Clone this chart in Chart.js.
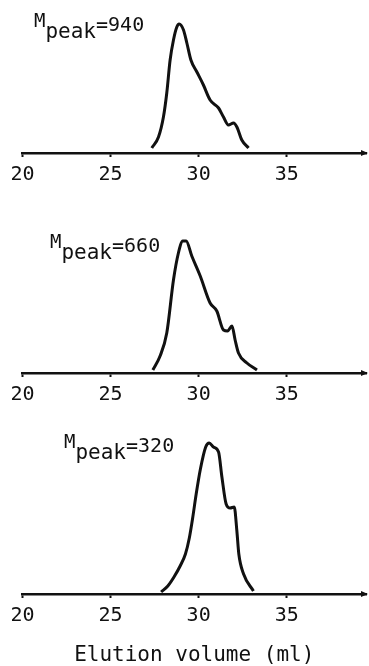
<!DOCTYPE html>
<html>
<head>
<meta charset="utf-8">
<script src="https://cdn.jsdelivr.net/npm/chart.js@4"></script>
<style>
  body { margin: 0; background: #fff; }
  #wrap { position: relative; width: 369px; height: 666px; }
  canvas { position: absolute; left: 0; }
</style>
</head>
<body>
<div id="wrap">
  <canvas id="c1" width="369" height="200" style="top:0px"></canvas>
  <canvas id="c2" width="369" height="220" style="top:200px"></canvas>
  <canvas id="c3" width="369" height="246" style="top:420px"></canvas>
</div>
<script>
// elution volume (ml) / detector signal (arb. units)
const vol940 = [27.34, 27.72, 28.0, 28.19, 28.38, 28.57, 28.76, 28.89, 29.14, 29.33, 29.56, 29.9, 30.27, 30.65, 31.13, 31.41, 31.69, 31.98, 32.17, 32.45, 32.83];
const sig940 = [5, 16, 36, 60, 93, 113, 126, 129, 123, 110, 93, 81, 68, 53, 45, 36, 28, 30, 26, 13, 5];

const vol660 = [27.4, 27.81, 28.19, 28.57, 28.85, 29.1, 29.29, 29.61, 30.09, 30.65, 31.03, 31.41, 31.64, 31.89, 32.07, 32.26, 32.74, 33.31];
const sig660 = [3, 17, 40, 93, 120, 132, 132, 117, 97, 70, 62, 43, 42, 47, 33, 20, 10, 3];

const vol320 = [27.87, 28.25, 28.6, 28.95, 29.25, 29.47, 29.66, 29.86, 30.1, 30.4, 30.6, 30.84, 31.13, 31.32, 31.56, 31.79, 32.02, 32.17, 32.28, 32.55, 33.11];
const sig320 = [2, 8, 17, 28, 40, 56, 76, 100, 125, 147, 151, 147, 142, 117, 90, 86, 87, 63, 40, 20, 3];

const peakLabels = ["940", "660", "320"];
const xTicks = [20, 25, 30, 35];
const xMin = 20;
const xMax = 39.5;
const xTitle = "Elution volume (ml)";

const FONT = "'DejaVu Sans Mono', monospace";
const INK = "#111";

//arrow at the end of the axis + the M_peak label
const extras = {
    id: "extras",
    afterDraw(chart, args, opts) {
        const ctx = chart.ctx;
        const y0 = chart.chartArea.bottom;
        const xe = chart.scales.x.right;
        ctx.save();
        ctx.fillStyle = INK;
        ctx.beginPath();
        ctx.moveTo(xe + 2, y0);
        ctx.lineTo(xe - 5, y0 - 3);
        ctx.lineTo(xe - 5, y0 + 3);
        ctx.closePath();
        ctx.fill();

        let x = opts.x;
        const y = opts.y;
        ctx.textBaseline = "alphabetic";
        ctx.font = "19px " + FONT;
        ctx.fillText("M", x, y);
        x += ctx.measureText("M").width;
        ctx.font = "21px " + FONT;
        ctx.fillText("peak", x, y + 11);
        x += ctx.measureText("peak").width;
        ctx.font = "20px " + FONT;
        ctx.fillText("=" + opts.text, x, y + 4);
        ctx.restore();
    }
};

function veDoThi(id, vol, sig, yMax, padTop, scaleH, label, lx, ly, showTitle) {
    const points = vol.map((v, i) => ({ x: v, y: sig[i] }));
    const ctx = document.getElementById(id).getContext("2d");
    new Chart(ctx, {
        type: "line",
        data: {
            datasets: [{
                data: points,
                borderColor: INK,
                borderWidth: 3,
                pointRadius: 0,
                fill: false,
                cubicInterpolationMode: "monotone"
            }]
        },
        options: {
            responsive: false,
            animation: false,
            layout: { padding: { left: 22.5, right: 3, top: padTop, bottom: 0 } },
            plugins: {
                legend: { display: false },
                tooltip: { enabled: false },
                extras: { text: label, x: lx, y: ly }
            },
            scales: {
                x: {
                    type: "linear",
                    min: xMin,
                    max: xMax,
                    afterBuildTicks: (s) => { s.ticks = xTicks.map(v => ({ value: v })); },
                    afterFit: (s) => { s.height = scaleH; },
                    border: { display: true, color: INK, width: 2.5 },
                    grid: { drawOnChartArea: false, drawTicks: true, tickLength: 4, tickWidth: 2, color: INK },
                    ticks: { color: INK, padding: 6, maxRotation: 0, font: { family: FONT, size: 20 } },
                    title: {
                        display: showTitle,
                        text: xTitle,
                        color: INK,
                        padding: { top: 4, bottom: 0 },
                        font: { family: FONT, size: 21, lineHeight: 1 }
                    }
                },
                y: { display: false, min: 0, max: yMax }
            }
        },
        plugins: [extras]
    });
}

veDoThi("c1", vol940, sig940, 150, 3, 47, peakLabels[0], 34, 27, false);
veDoThi("c2", vol660, sig660, 150, 23, 47, peakLabels[1], 50, 48, false);
veDoThi("c3", vol320, sig320, 155, 19, 72, peakLabels[2], 64, 28, true);
</script>
</body>
</html>
